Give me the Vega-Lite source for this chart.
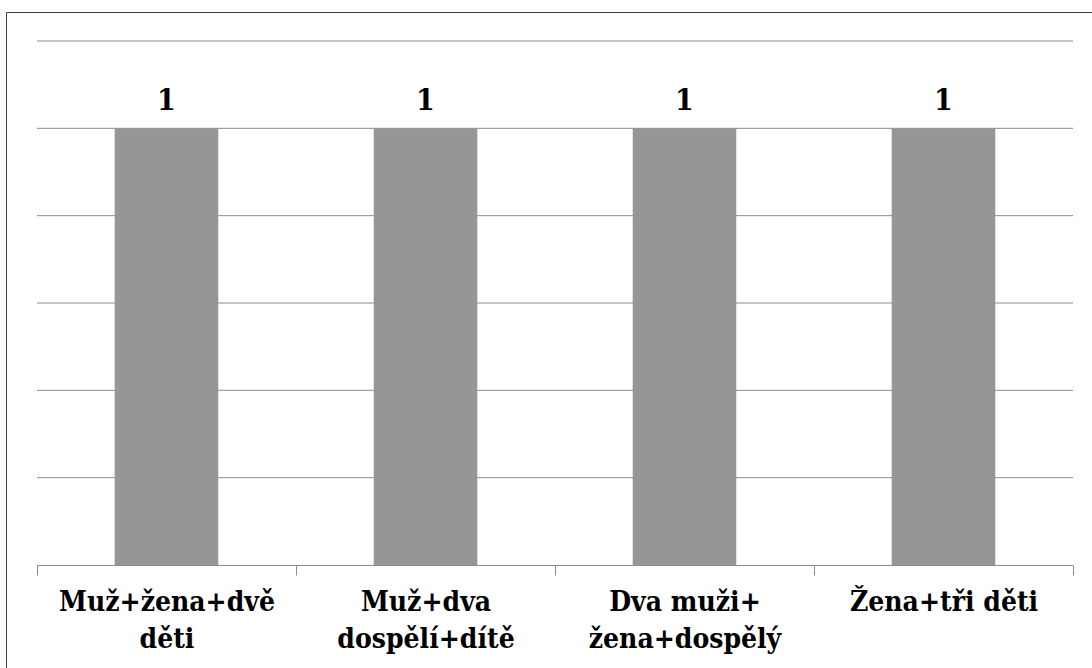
{
  "$schema": "https://vega.github.io/schema/vega-lite/v6.json",
  "width": 1100,
  "height": 680,
  "autosize": "none",
  "padding": {"left": 6, "top": 12, "right": 0, "bottom": 0},
  "background": "white",
  "config": {"view": {"stroke": "#404040", "strokeWidth": 1}},
  "datasets": {
    "bars": [
      {"skupina": "Muž+žena+dvě děti", "pocet": 1},
      {"skupina": "Muž+dva dospělí+dítě", "pocet": 1},
      {"skupina": "Dva muži+ žena+dospělý", "pocet": 1},
      {"skupina": "Žena+tři děti", "pocet": 1}
    ],
    "grid": [{"g": 0.2}, {"g": 0.4}, {"g": 0.6}, {"g": 0.8}, {"g": 1.0}, {"g": 1.2}]
  },
  "layer": [
    {
      "data": {"name": "grid"},
      "mark": {"type": "rule", "color": "#8c8c8c", "strokeWidth": 1},
      "encoding": {
        "y": {"field": "g", "type": "quantitative", "scale": {"domain": [0, 1.2], "range": [553, 29]}, "axis": null},
        "x": {"datum": 0, "type": "quantitative", "scale": {"domain": [0, 1], "range": [31, 1067]}, "axis": null},
        "x2": {"datum": 1}
      }
    },
    {
      "data": {"name": "bars"},
      "layer": [
        {
          "mark": {"type": "bar", "color": "#969696", "width": {"band": 0.4}},
          "encoding": {
            "x": {
              "field": "skupina", "type": "nominal", "sort": null,
              "scale": {"range": [31, 1067], "paddingInner": 0, "paddingOuter": 0},
              "axis": {
                "title": null, "offset": -127, "domainColor": "#8c8c8c", "tickColor": "#8c8c8c",
                "tickSize": 10, "tickBand": "extent", "labelAngle": 0,
                "labelFont": "DejaVu Serif Condensed", "labelFontSize": 28, "labelFontWeight": "bold",
                "labelColor": "black", "labelPadding": 13, "labelLineHeight": 37,
                "labelLimit": 0, "labelOverlap": false, "labelBound": false,
                "labelExpr": "datum.value == 'Muž+žena+dvě děti' ? ['Muž+žena+dvě','děti'] : datum.value == 'Muž+dva dospělí+dítě' ? ['Muž+dva','dospělí+dítě'] : datum.value == 'Dva muži+ žena+dospělý' ? ['Dva muži+','žena+dospělý'] : datum.label"
              }
            },
            "y": {"field": "pocet", "type": "quantitative", "scale": {"domain": [0, 1.2], "range": [553, 29]}, "axis": null}
          }
        },
        {
          "mark": {"type": "text", "font": "DejaVu Serif Condensed", "fontSize": 30, "fontWeight": "bold", "color": "black", "baseline": "alphabetic", "dy": -18},
          "encoding": {
            "x": {"field": "skupina", "type": "nominal", "sort": null},
            "y": {"field": "pocet", "type": "quantitative"},
            "text": {"field": "pocet", "type": "quantitative"}
          }
        }
      ]
    }
  ],
  "resolve": {"scale": {"x": "independent"}}
}
